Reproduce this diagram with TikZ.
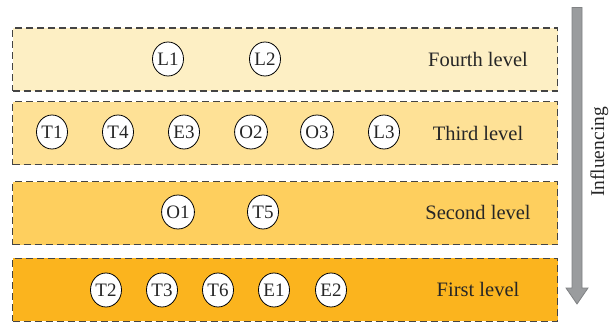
\documentclass[tikz,border=0pt]{standalone}
\usepackage{fontspec}
\setmainfont{Liberation Serif}
\usetikzlibrary{shapes.geometric}
\definecolor{lvfour}{HTML}{FDEFC4}
\definecolor{lvthree}{HTML}{FEE196}
\definecolor{lvtwo}{HTML}{FECF5E}
\definecolor{lvone}{HTML}{FBB41E}
\definecolor{edgegray}{HTML}{444444}
\definecolor{arrowgray}{HTML}{9A9C9E}
\definecolor{arrowedge}{HTML}{808284}
\begin{document}
\begin{tikzpicture}[x=1pt,y=-1pt,
  levelbox/.style={draw=edgegray,line width=1.2pt,dash pattern=on 7pt off 4pt,minimum width=545pt,minimum height=63pt,inner sep=0pt,anchor=north west},
  factor/.style={ellipse,draw=black,fill=white,line width=0.8pt,minimum width=31pt,minimum height=34pt,inner sep=0pt,font=\fontsize{19}{19}\selectfont,text=black!85},
  levellabel/.style={font=\fontsize{20.5}{20.5}\selectfont,text=black!85}]
\useasboundingbox (0,0) rectangle (609,323);
% boxes
\node[levelbox,fill=lvfour] (b4) at (12,27.5) {};
\node[levelbox,fill=lvthree] (b3) at (12,101) {};
\node[levelbox,fill=lvtwo] (b2) at (12,181) {};
\node[levelbox,fill=lvone] (b1) at (12,257.5) {};
% labels
\node[levellabel] (t4) at (478,59) {Fourth level};
\node[levellabel] (t3) at (478,133) {Third level};
\node[levellabel] (t2) at (478,212) {Second level};
\node[levellabel] (t1) at (478,289) {First level};
% fourth level
\node[factor] (L1) at (168,59) {L1};
\node[factor] (L2) at (265,59) {L2};
% third level
\node[factor] (T1) at (52,132) {T1};
\node[factor] (T4) at (118,132) {T4};
\node[factor] (E3) at (184,132) {E3};
\node[factor] (O2) at (251,132) {O2};
\node[factor] (O3) at (317,132) {O3};
\node[factor] (L3) at (384,132) {L3};
% second level
\node[factor] (O1) at (178,212) {O1};
\node[factor] (T5) at (263,212) {T5};
% first level
\node[factor] (T2) at (106,290) {T2};
\node[factor] (T3) at (162,290) {T3};
\node[factor] (T6) at (218,290) {T6};
\node[factor] (E1) at (274,290) {E1};
\node[factor] (E2) at (331,290) {E2};
% influencing arrow
\filldraw[fill=arrowgray,draw=arrowedge,line width=0.8pt,line join=miter]
  (572,7.5) -- (582,7.5) -- (582,288) -- (588,288) -- (577,304) -- (566,288) -- (572,288) -- cycle;
\node[font=\fontsize{19.5}{19.5}\selectfont,text=black!85,rotate=90,anchor=base] (infl) at (604,152) {Influencing};
\end{tikzpicture}
\end{document}
